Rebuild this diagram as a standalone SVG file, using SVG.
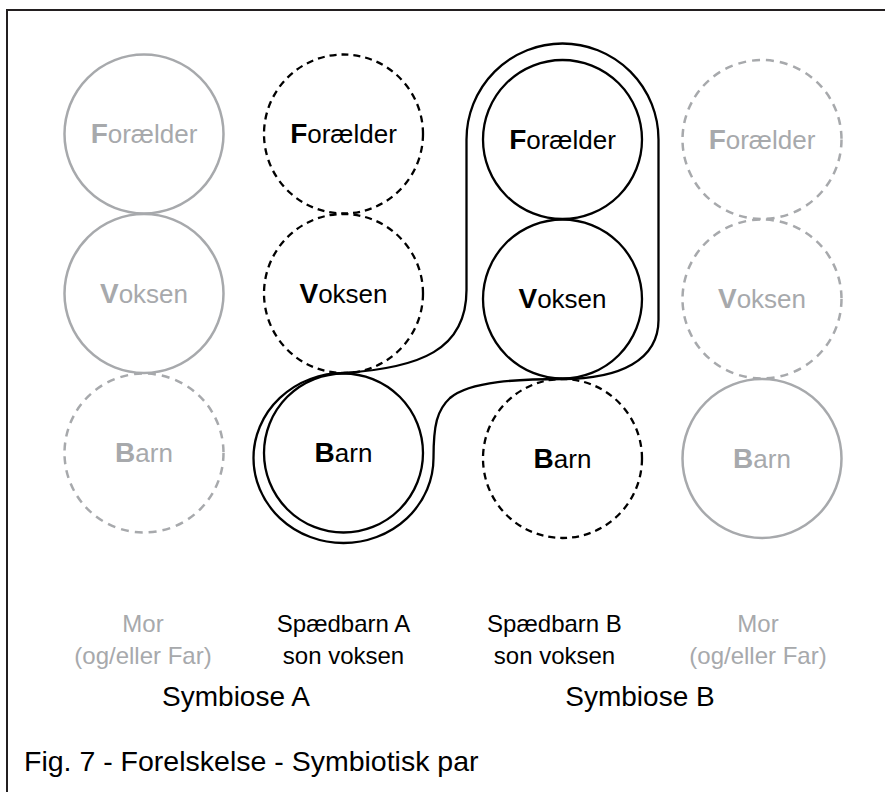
<svg xmlns="http://www.w3.org/2000/svg" width="885" height="792" viewBox="0 0 885 792">
<style>
  .g { fill: none; stroke: #a7a9ac; stroke-width: 2.5; }
  .k { fill: none; stroke: #000; stroke-width: 2.3; }
  .gd { stroke-dasharray: 8 6; }
  .kd { stroke-dasharray: 7 5; }
  text { font-family: "Liberation Sans", Arial, sans-serif; }
  .lbl { font-size: 26px; text-anchor: middle; }
  .lg { fill: #a7a9ac; }
  .lk { fill: #000; }
  .cap { font-size: 24px; text-anchor: middle; }
  .sym { font-size: 28px; text-anchor: middle; fill: #000; }
  .b { font-weight: bold; font-size: 28px; }
</style>
<rect width="885" height="792" fill="#fff"/>
<path d="M7 800 L7 10 L890 10" fill="none" stroke="#231f20" stroke-width="2"/>

<g id="connectors">
  <path class="k" d="M562.5 379 C520 379 470 381 450 398 C437 410 433.5 425 433.5 458 A90 85 0 0 1 343.5 543 A90 85 0 0 1 253.5 458 A90 85 0 0 1 343.5 373 C420 368 466.5 350 466.5 290 L466.5 139.5 A96 96 0 0 1 658.5 139.5 L658.5 320 C658.5 360 620 379 562.5 379 Z"/>
</g>

<g id="mor-a-foraelder"><circle class="g" cx="144" cy="134" r="79.5"/><text class="lbl lg" x="144" y="143"><tspan class="b">F</tspan>orælder</text></g>
<g id="mor-a-voksen"><circle class="g" cx="144" cy="293.5" r="79.5"/><text class="lbl lg" x="144" y="302.5"><tspan class="b">V</tspan>oksen</text></g>
<g id="mor-a-barn"><circle class="g gd" cx="144" cy="453" r="79.5"/><text class="lbl lg" x="144" y="462"><tspan class="b">B</tspan>arn</text></g>

<g id="barn-a-foraelder"><circle class="k kd" cx="343.5" cy="134" r="79.5"/><text class="lbl lk" x="343.5" y="143"><tspan class="b">F</tspan>orælder</text></g>
<g id="barn-a-voksen"><circle class="k kd" cx="343.5" cy="293.5" r="79.5"/><text class="lbl lk" x="343.5" y="302.5"><tspan class="b">V</tspan>oksen</text></g>
<g id="barn-a-barn"><circle class="k" cx="343.5" cy="453" r="79.5"/><text class="lbl lk" x="343.5" y="462"><tspan class="b">B</tspan>arn</text></g>

<g id="barn-b-foraelder"><circle class="k" cx="562.5" cy="139.5" r="79.5"/><text class="lbl lk" x="562.5" y="148.5"><tspan class="b">F</tspan>orælder</text></g>
<g id="barn-b-voksen"><circle class="k" cx="562.5" cy="299" r="79.5"/><text class="lbl lk" x="562.5" y="308"><tspan class="b">V</tspan>oksen</text></g>
<g id="barn-b-barn"><circle class="k kd" cx="562.5" cy="458.5" r="79.5"/><text class="lbl lk" x="562.5" y="467.5"><tspan class="b">B</tspan>arn</text></g>

<g id="mor-b-foraelder"><circle class="g gd" cx="762" cy="139.5" r="79.5"/><text class="lbl lg" x="762" y="148.5"><tspan class="b">F</tspan>orælder</text></g>
<g id="mor-b-voksen"><circle class="g gd" cx="762" cy="299" r="79.5"/><text class="lbl lg" x="762" y="308"><tspan class="b">V</tspan>oksen</text></g>
<g id="mor-b-barn"><circle class="g" cx="762" cy="458.5" r="79.5"/><text class="lbl lg" x="762" y="467.5"><tspan class="b">B</tspan>arn</text></g>

<g id="captions">
  <text class="cap lg" x="143" y="632">Mor</text>
  <text class="cap lg" x="143" y="664">(og/eller Far)</text>
  <text class="cap lk" x="343.5" y="632">Spædbarn A</text>
  <text class="cap lk" x="343.5" y="664">son voksen</text>
  <text class="cap lk" x="554.5" y="632">Spædbarn B</text>
  <text class="cap lk" x="554.5" y="664">son voksen</text>
  <text class="cap lg" x="758" y="632">Mor</text>
  <text class="cap lg" x="758" y="664">(og/eller Far)</text>
  <text class="sym" x="236" y="706">Symbiose A</text>
  <text class="sym" x="640" y="706">Symbiose B</text>
  <text x="24" y="771" font-size="28.5" fill="#000">Fig. 7 - Forelskelse - Symbiotisk par</text>
</g>
</svg>
